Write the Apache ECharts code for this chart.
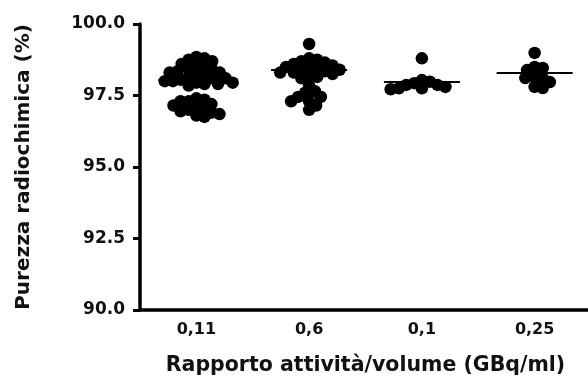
<!DOCTYPE html>
<html>
<head>
<meta charset="utf-8">
<script src="https://cdn.jsdelivr.net/npm/echarts@6/dist/echarts.min.js"></script>
<style>
  html, body { margin: 0; padding: 0; background: #fff; }
</style>
</head>
<body>
<div id="purity-chart" style="width:588px;height:376px"></div>
<script>
// categories on the x axis (activity/volume ratio, GBq/ml)
const categories = ['0,11', '0,6', '0,1', '0,25']

// radiochemical purity (%) per group
const group011 = [98.85, 98.8, 98.75, 98.7, 98.6, 98.55, 98.5, 98.45, 98.4, 98.35, 98.3, 98.3, 98.25,
  98.2, 98.15, 98.1, 98.1, 98.05, 98.0, 98.0, 97.95, 97.95, 97.9, 97.9, 97.85,
  97.4, 97.35, 97.3, 97.3, 97.2, 97.15, 97.1, 97.05, 97.0, 96.95, 96.9, 96.85, 96.8, 96.75]
const group06 = [99.3, 98.8, 98.75, 98.7, 98.65, 98.6, 98.55, 98.5, 98.5, 98.45, 98.4, 98.4, 98.35,
  98.3, 98.3, 98.25, 98.2, 98.15, 98.1, 97.85, 97.65, 97.6, 97.45, 97.45, 97.3, 97.3, 97.15, 97.0]
const group01 = [98.8, 98.04, 97.98, 97.93, 97.87, 97.87, 97.8, 97.75, 97.75, 97.72]
const group025 = [98.99, 98.5, 98.46, 98.39, 98.15, 98.11, 98.11, 97.97, 97.8, 97.76]

// median lines
const medians = [98.04, 98.39, 97.97, 98.29]

// y axis ticks
const yMin = 90
const yMax = 100
const yStep = 2.5

const groups = [group011, group06, group01, group025]

const fontFamily = 'DejaVu Sans'
const grid = { left: 140, right: -3, top: 24, bottom: 66 }

const chart = echarts.init(document.getElementById('purity-chart'))

// simple beeswarm, worked out in pixels so the dots spread sideways
function swarm(values, pxY, minDist) {
  const placed = []
  const sorted = values.slice().sort((a, b) => b - a)
  sorted.forEach(v => {
    const y = v * pxY
    const cands = [0]
    const blocks = []
    placed.forEach(p => {
      const dy = Math.abs(p.y - y)
      if (dy < minDist) {
        const dx = Math.sqrt(minDist * minDist - dy * dy)
        blocks.push([p.x - dx, p.x + dx])
        cands.push(p.x + dx, p.x - dx)
      }
    })
    let best = null
    cands.forEach(c => {
      const ok = blocks.every(b => c <= b[0] + 1e-6 || c >= b[1] - 1e-6)
      if (ok && (best === null || Math.abs(c) < Math.abs(best) - 1e-6)) best = c
    })
    placed.push({ x: best, y: y, v: v })
  })
  return placed
}

const plotW = chart.getWidth() - grid.left - grid.right
const plotH = chart.getHeight() - grid.top - grid.bottom
const pxX = plotW / categories.length
const pxY = plotH / (yMax - yMin)

const dots = []
groups.forEach((vals, i) => {
  swarm(vals, pxY, 8.2).forEach(p => {
    dots.push([i + 1 + p.x / pxX, p.v])
  })
})

const medianData = medians.map((m, i) => [i + 1, m])

const option = {
  animation: false,
  backgroundColor: '#fff',
  grid: {
    left: grid.left,
    right: grid.right,
    top: grid.top,
    bottom: grid.bottom,
    containLabel: false,
    outerBoundsMode: 'none'
  },
  xAxis: [
    {
      type: 'category',
      data: categories,
      name: 'Rapporto attività/volume (GBq/ml)',
      nameLocation: 'middle',
      nameGap: 45,
      nameTextStyle: { fontFamily: fontFamily, fontSize: 20.5, fontWeight: 'bold', color: '#111' },
      axisLine: { lineStyle: { color: '#000', width: 3.5 } },
      axisTick: { alignWithLabel: true, length: 7, lineStyle: { color: '#000', width: 3 } },
      axisLabel: { margin: 12, fontFamily: fontFamily, fontSize: 16, fontWeight: 'bold', color: '#111' },
      splitLine: { show: false }
    },
    {
      type: 'value',
      min: 0.5,
      max: 4.5,
      show: false
    }
  ],
  yAxis: {
    type: 'value',
    min: yMin,
    max: yMax,
    interval: yStep,
    name: 'Purezza radiochimica (%)',
    nameLocation: 'middle',
    nameGap: 106,
    nameTextStyle: { fontFamily: fontFamily, fontSize: 20, fontWeight: 'bold', color: '#111' },
    axisLine: { show: true, lineStyle: { color: '#000', width: 3.5 } },
    axisTick: { show: true, length: 7, lineStyle: { color: '#000', width: 3 } },
    axisLabel: {
      margin: 15,
      fontFamily: fontFamily,
      fontSize: 17,
      fontWeight: 'bold',
      color: '#111',
      formatter: v => v.toFixed(1)
    },
    splitLine: { show: false }
  },
  series: [
    {
      name: 'mediana',
      type: 'scatter',
      xAxisIndex: 1,
      symbol: 'rect',
      symbolSize: [76, 2],
      itemStyle: { color: '#000', opacity: 1 },
      z: 1,
      data: medianData
    },
    {
      name: 'purezza',
      type: 'scatter',
      xAxisIndex: 1,
      symbol: 'circle',
      symbolSize: 12.5,
      itemStyle: { color: '#000', opacity: 1 },
      z: 2,
      data: dots
    }
  ]
}

chart.setOption(option)
</script>
</body>
</html>
